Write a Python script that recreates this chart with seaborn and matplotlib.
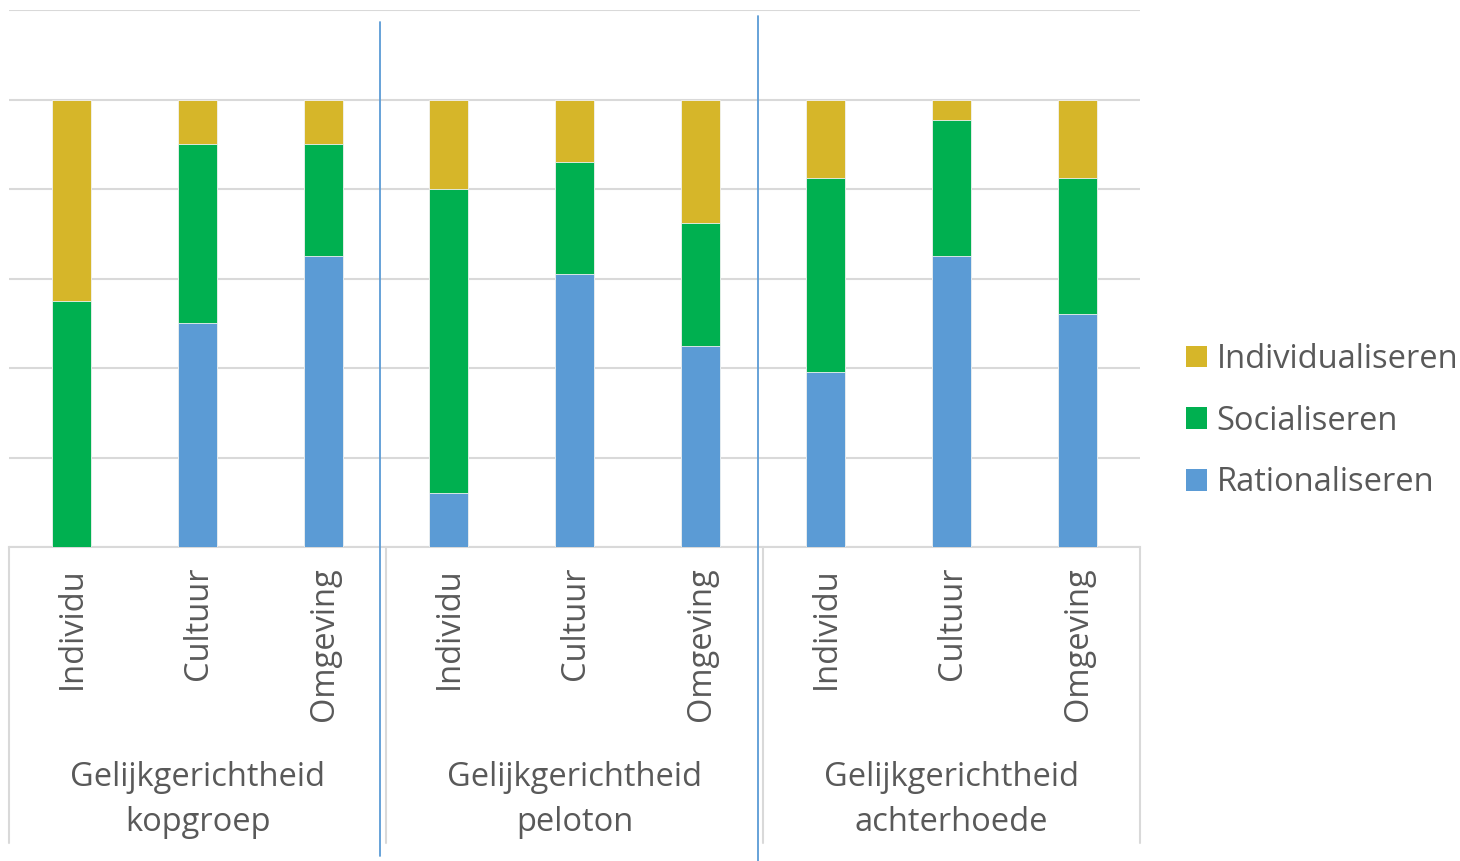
import numpy as np
import pandas as pd
import matplotlib
matplotlib.use("Agg")
import matplotlib.pyplot as plt
from matplotlib.patches import Patch
from matplotlib.lines import Line2D
import seaborn as sns

# ---- data ----
groups = ["Gelijkgerichtheid\nkopgroep", "Gelijkgerichtheid\npeloton", "Gelijkgerichtheid\nachterhoede"]
subcats = ["Individu", "Cultuur", "Omgeving"]
series_names = ["Rationaliseren", "Socialiseren", "Individualiseren"]
rationaliseren = [0, 50, 65, 12, 61, 45, 39, 65, 52]
socialiseren = [55, 40, 25, 68, 25, 27.5, 43.5, 30.5, 30.5]
individualiseren = [45, 10, 10, 20, 14, 27.5, 17.5, 4.5, 17.5]
colors = {"Rationaliseren": "#5B9BD5", "Socialiseren": "#00B050", "Individualiseren": "#D6B629"}

sns.set_theme(style="white")
plt.rcParams["font.family"] = ["Open Sans", "DejaVu Sans"]
TXT = "#595959"
GRID = "#D9D9D9"
FS = 23.5

bar_ids = [f"{g}|{s}" for g in groups for s in subcats]
df = pd.DataFrame({
    "bar": bar_ids,
    "Rationaliseren": rationaliseren,
    "Socialiseren": socialiseren,
    "Individualiseren": individualiseren,
})
df["c1"] = df["Rationaliseren"]
df["c2"] = df["c1"] + df["Socialiseren"]
df["c3"] = df["c2"] + df["Individualiseren"]

W, H = 1460, 861
fig = plt.figure(figsize=(W / 100, H / 100), dpi=100)
x0, x1, ytop, ybot = 9, 1140, 10, 547
ax = fig.add_axes([x0 / W, 1 - ybot / H, (x1 - x0) / W, (ybot - ytop) / H])

for col, name in [("c3", "Individualiseren"), ("c2", "Socialiseren"), ("c1", "Rationaliseren")]:
    sns.barplot(data=df, x="bar", y=col, order=bar_ids, color=colors[name],
                saturation=1, width=0.31, errorbar=None, ax=ax, zorder=3,
                linewidth=0.6, edgecolor="#f2f2f2")

ax.set_xlim(-0.5, len(bar_ids) - 0.5)
ax.set_ylim(0, 120)
ax.set_yticks([0, 20, 40, 60, 80, 100, 120])
ax.set_yticklabels([])
ax.tick_params(left=False, bottom=False, labelbottom=False)
ax.yaxis.grid(True, color=GRID, lw=1.5)
ax.set_axisbelow(True)
ax.set_xlabel("")
ax.set_ylabel("")
for s in ["left", "right", "top"]:
    ax.spines[s].set_visible(False)
ax.spines["bottom"].set_color(GRID)
ax.spines["bottom"].set_linewidth(1.5)

def fy(py):
    return 1 - py / H

def fx_data(xd):
    px = x0 + (xd + 0.5) / len(bar_ids) * (x1 - x0)
    return px / W

# category labels (rotated)
for i, b in enumerate(bar_ids):
    sub = b.split("|")[1]
    fig.text(fx_data(i) + 1 / W, fy(567), sub, rotation=90, ha="center", va="top",
             fontsize=FS, color=TXT)

# group labels
for gi, g in enumerate(groups):
    fig.text(fx_data(gi * 3 + 1), fy(800), g, ha="center", va="center",
             fontsize=FS, color=TXT, linespacing=1.46)

# multi-level axis separators
for xb in [-0.5, 2.5, 5.5, 8.5]:
    px = x0 + (xb + 0.5) / len(bar_ids) * (x1 - x0)
    fig.add_artist(Line2D([px / W, px / W], [fy(547), fy(843)], color=GRID, lw=1.5))

# blue separator lines
for px, ya, yb in [(380, 22, 856), (758, 16, 861)]:
    fig.add_artist(Line2D([px / W, px / W], [fy(ya), fy(yb)], color="#5B9BD5", lw=1.3))

# legend
leg_names = ["Individualiseren", "Socialiseren", "Rationaliseren"]
handles = [Patch(facecolor=colors[n], edgecolor="none") for n in leg_names]
leg = fig.legend(handles, leg_names,
                 loc="center left", bbox_to_anchor=(1186 / W, fy(421)), frameon=False,
                 fontsize=FS, handlelength=0.64, handleheight=0.64, handletextpad=0.3,
                 labelspacing=0.88, borderpad=0, borderaxespad=0)
for t in leg.get_texts():
    t.set_color(TXT)

fig.savefig("out.png", dpi=100)
